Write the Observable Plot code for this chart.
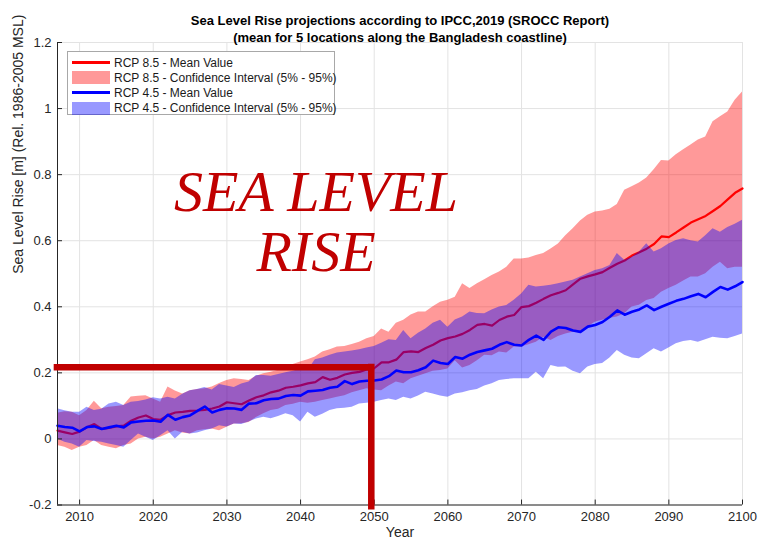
<!DOCTYPE html>
<html>
<head>
<meta charset="utf-8">
<script src="https://cdn.jsdelivr.net/npm/d3@7"></script>
<script src="https://cdn.jsdelivr.net/npm/@observablehq/plot@0.6"></script>
<style>
  html, body { margin: 0; padding: 0; background: #fff; }
  #wrap { position: relative; width: 758px; height: 546px; font-family: "Liberation Sans", Arial, sans-serif; }
  #legend { position: absolute; left: 67px; top: 51px; width: 268px; height: 64px; border: 1px solid #a8a8a8; background: #fff; box-sizing: border-box; }
  #legend .sw { position: absolute; left: 4px; width: 38px; }
  #legend .tx { position: absolute; left: 46px; font-size: 12px; color: #1a1a1a; line-height: 14px; white-space: nowrap; }
  .big { position: absolute; font-family: "Liberation Serif", "Times New Roman", serif; font-style: italic; color: #c00000; font-size: 58px; line-height: 58px; white-space: nowrap; text-align: center; width: 400px; left: 116px; }
</style>
</head>
<body>
<div id="wrap"></div>
<script>
// ---- data ----
const startYear = 2007;
const endYear = 2100;

const rcp85Mean = [
  0.025, 0.020, 0.015, 0.022, 0.035, 0.045, 0.030, 0.033, 0.038, 0.040,
  0.055, 0.065, 0.071, 0.060, 0.058, 0.072, 0.080, 0.082, 0.085, 0.086,
  0.088, 0.092, 0.098, 0.111, 0.108, 0.105, 0.116, 0.126, 0.132, 0.141,
  0.146, 0.155, 0.158, 0.162, 0.168, 0.172, 0.187, 0.179, 0.185, 0.195,
  0.200, 0.203, 0.210, 0.214, 0.232, 0.232, 0.240, 0.263, 0.265, 0.263,
  0.275, 0.285, 0.298, 0.305, 0.310, 0.318, 0.330, 0.345, 0.348, 0.343,
  0.360, 0.370, 0.375, 0.399, 0.402, 0.412, 0.424, 0.435, 0.442, 0.450,
  0.468, 0.485, 0.492, 0.498, 0.505, 0.518, 0.530, 0.540, 0.555, 0.565,
  0.576, 0.590, 0.613, 0.611, 0.625, 0.640, 0.655, 0.665, 0.675, 0.690,
  0.705, 0.725, 0.745, 0.758
];
const rcp85High = [
  0.078, 0.082, 0.081, 0.070, 0.086, 0.114, 0.091, 0.096, 0.098, 0.101,
  0.127, 0.129, 0.131, 0.121, 0.111, 0.157, 0.145, 0.136, 0.146, 0.150,
  0.152, 0.157, 0.168, 0.177, 0.182, 0.180, 0.177, 0.190, 0.197, 0.202,
  0.208, 0.217, 0.225, 0.233, 0.240, 0.248, 0.263, 0.270, 0.278, 0.280,
  0.286, 0.293, 0.303, 0.310, 0.333, 0.323, 0.350, 0.359, 0.375, 0.384,
  0.384, 0.400, 0.414, 0.420, 0.429, 0.470, 0.455, 0.470, 0.482, 0.495,
  0.505, 0.520, 0.545, 0.545, 0.548, 0.555, 0.561, 0.575, 0.590, 0.615,
  0.636, 0.660, 0.677, 0.687, 0.690, 0.695, 0.710, 0.753, 0.763, 0.775,
  0.790, 0.815, 0.843, 0.841, 0.860, 0.875, 0.890, 0.905, 0.914, 0.960,
  0.975, 0.990, 1.025, 1.050
];
const rcp85Low = [
  -0.020, -0.025, -0.035, -0.025, -0.020, -0.005, -0.020, -0.025, -0.030, -0.020,
  -0.015, 0.000, 0.005, 0.000, 0.005, 0.015, 0.025, 0.018, 0.015, 0.025,
  0.028, 0.030, 0.025, 0.035, 0.045, 0.046, 0.050, 0.065, 0.076, 0.086,
  0.090, 0.101, 0.105, 0.111, 0.108, 0.111, 0.116, 0.121, 0.126, 0.131,
  0.140, 0.146, 0.152, 0.148, 0.146, 0.160, 0.172, 0.167, 0.182, 0.190,
  0.197, 0.205, 0.207, 0.212, 0.237, 0.215, 0.222, 0.237, 0.253, 0.252,
  0.263, 0.260, 0.278, 0.278, 0.285, 0.293, 0.308, 0.298, 0.310, 0.318,
  0.323, 0.325, 0.339, 0.353, 0.359, 0.365, 0.369, 0.379, 0.399, 0.405,
  0.419, 0.425, 0.444, 0.455, 0.465, 0.478, 0.490, 0.490, 0.500, 0.520,
  0.535, 0.515, 0.520, 0.520
];
const rcp45Mean = [
  0.040, 0.036, 0.034, 0.023, 0.036, 0.038, 0.030, 0.035, 0.040, 0.035,
  0.050, 0.053, 0.055, 0.056, 0.052, 0.073, 0.058, 0.066, 0.071, 0.085,
  0.098, 0.080, 0.088, 0.093, 0.092, 0.088, 0.107, 0.108, 0.117, 0.121,
  0.122, 0.130, 0.133, 0.131, 0.144, 0.146, 0.148, 0.155, 0.158, 0.175,
  0.166, 0.174, 0.176, 0.177, 0.180, 0.190, 0.207, 0.202, 0.202, 0.208,
  0.217, 0.237, 0.230, 0.227, 0.248, 0.243, 0.255, 0.263, 0.268, 0.273,
  0.285, 0.293, 0.285, 0.283, 0.300, 0.313, 0.300, 0.325, 0.338, 0.336,
  0.328, 0.324, 0.340, 0.345, 0.354, 0.370, 0.389, 0.376, 0.385, 0.392,
  0.404, 0.390, 0.400, 0.409, 0.418, 0.424, 0.432, 0.439, 0.429, 0.445,
  0.460, 0.452, 0.462, 0.475
];
const rcp45High = [
  0.091, 0.085, 0.081, 0.081, 0.096, 0.086, 0.090, 0.106, 0.111, 0.101,
  0.111, 0.113, 0.118, 0.125, 0.121, 0.126, 0.121, 0.135, 0.146, 0.150,
  0.156, 0.148, 0.165, 0.160, 0.156, 0.166, 0.172, 0.192, 0.192, 0.190,
  0.195, 0.200, 0.205, 0.212, 0.207, 0.240, 0.245, 0.253, 0.260, 0.263,
  0.266, 0.270, 0.275, 0.280, 0.290, 0.300, 0.298, 0.328, 0.303, 0.320,
  0.333, 0.350, 0.359, 0.338, 0.360, 0.369, 0.384, 0.380, 0.379, 0.390,
  0.399, 0.404, 0.420, 0.439, 0.465, 0.460, 0.462, 0.465, 0.470, 0.475,
  0.480, 0.490, 0.500, 0.510, 0.515, 0.525, 0.561, 0.541, 0.550, 0.566,
  0.591, 0.566, 0.576, 0.590, 0.601, 0.606, 0.600, 0.596, 0.615, 0.636,
  0.626, 0.640, 0.650, 0.662
];
const rcp45Low = [
  0.000, -0.010, -0.015, -0.025, -0.005, -0.008, -0.010, -0.015, -0.020, -0.025,
  -0.005, 0.015, 0.005, -0.005, 0.010, 0.025, 0.000, 0.020, 0.015, 0.018,
  0.025, 0.030, 0.040, 0.036, 0.045, 0.044, 0.051, 0.060, 0.066, 0.061,
  0.068, 0.076, 0.070, 0.051, 0.081, 0.066, 0.075, 0.086, 0.091, 0.093,
  0.096, 0.106, 0.108, 0.111, 0.116, 0.121, 0.116, 0.126, 0.121, 0.130,
  0.141, 0.136, 0.130, 0.126, 0.136, 0.140, 0.146, 0.150, 0.160, 0.167,
  0.177, 0.180, 0.182, 0.182, 0.182, 0.202, 0.182, 0.222, 0.217, 0.218,
  0.205, 0.197, 0.218, 0.225, 0.228, 0.245, 0.268, 0.253, 0.245, 0.243,
  0.258, 0.273, 0.263, 0.275, 0.288, 0.295, 0.298, 0.293, 0.300, 0.308,
  0.305, 0.303, 0.310, 0.318
];

const xTicks = [2010, 2020, 2030, 2040, 2050, 2060, 2070, 2080, 2090, 2100];
const yTicks = [-0.2, 0, 0.2, 0.4, 0.6, 0.8, 1, 1.2];
const yTickLabels = ["-0.2", "0", "0.2", "0.4", "0.6", "0.8", "1", "1.2"];

// highlight annotation (2050, ~0.22 m)
const markYear = [2049.6];
const markLevel = [0.217];
const markFromYear = 2006.55;
const markToYear = 2050.05;
const markTopLevel = 0.226;
const markBottomLevel = -0.215;

const titleLines = [
  "Sea Level Rise projections according to IPCC,2019 (SROCC Report)",
  "(mean for 5 locations along the Bangladesh coastline)"
];
const yLabel = "Sea Level Rise [m] (Rel. 1986-2005 MSL)";
const xLabel = "Year";
const legendItems = [
  {label: "RCP 8.5 - Mean Value", kind: "line", color: "#ff0000"},
  {label: "RCP 8.5 - Confidence Interval (5% - 95%)", kind: "patch", color: "rgba(255,0,0,0.4)"},
  {label: "RCP 4.5 - Mean Value", kind: "line", color: "#0000ff"},
  {label: "RCP 4.5 - Confidence Interval (5% - 95%)", kind: "patch", color: "rgba(0,0,255,0.4)"}
];
const overlayWords = ["SEA LEVEL", "RISE"];

// ---- table ----
const years = d3.range(startYear, endYear + 1);
const data = years.map((year, i) => ({
  year,
  r85: rcp85Mean[i], r85lo: rcp85Low[i], r85hi: rcp85High[i],
  r45: rcp45Mean[i], r45lo: rcp45Low[i], r45hi: rcp45High[i]
}));

const axisColor = "#262626";
const gridColor = "#e3e3e3";

const chart = Plot.plot({
  width: 758,
  height: 546,
  marginLeft: 57,
  marginRight: 16,
  marginTop: 42,
  marginBottom: 41.5,
  style: {fontFamily: "'Liberation Sans', Arial, sans-serif", background: "#fff", overflow: "visible"},
  x: {domain: [startYear, endYear], axis: null},
  y: {domain: [-0.2, 1.2], axis: null},
  marks: [
    Plot.gridX(xTicks, {stroke: gridColor, strokeOpacity: 1, strokeWidth: 1}),
    Plot.gridY(yTicks, {stroke: gridColor, strokeOpacity: 1, strokeWidth: 1}),
    Plot.areaY(data, {x: "year", y1: "r85lo", y2: "r85hi", fill: "#ff0000", fillOpacity: 0.4}),
    Plot.lineY(data, {x: "year", y: "r85", stroke: "#ff0000", strokeWidth: 2.2}),
    Plot.areaY(data, {x: "year", y1: "r45lo", y2: "r45hi", fill: "#0000ff", fillOpacity: 0.4}),
    Plot.lineY(data, {x: "year", y: "r45", stroke: "#0000ff", strokeWidth: 2.6}),
    // axis lines
    Plot.ruleX([startYear], {stroke: axisColor, strokeWidth: 1}),
    Plot.ruleY([-0.2], {stroke: axisColor, strokeWidth: 1}),
    // inward ticks
    Plot.ruleX(xTicks, {y1: -0.2, y2: -0.185, stroke: axisColor, strokeWidth: 1}),
    Plot.ruleY(yTicks, {x1: startYear, x2: startYear + 0.68, stroke: axisColor, strokeWidth: 1}),
    // tick labels
    Plot.text(xTicks, {x: d => d, frameAnchor: "bottom", dy: 16, text: d => String(d), fontSize: 13, fill: axisColor, textAnchor: "middle"}),
    Plot.text(yTicks, {y: d => d, frameAnchor: "left", dx: -6, text: (d, i) => yTickLabels[i], fontSize: 13, fill: axisColor, textAnchor: "end"}),
    // highlight annotation
    Plot.ruleY(markLevel, {x1: markFromYear, x2: markToYear, stroke: "#c00000", strokeWidth: 6.5}),
    Plot.ruleX(markYear, {y1: markTopLevel, y2: markBottomLevel, stroke: "#c00000", strokeWidth: 6.5}),
    // titles and labels
    Plot.text([titleLines[0]], {frameAnchor: "top", dy: -27, fontSize: 13, fontWeight: "bold", fill: "#000"}),
    Plot.text([titleLines[1]], {frameAnchor: "top", dy: -10, fontSize: 13, fontWeight: "bold", fill: "#000"}),
    Plot.text([yLabel], {frameAnchor: "left", dx: -39, rotate: -90, fontSize: 14, fill: axisColor}),
    Plot.text([xLabel], {frameAnchor: "bottom", dy: 32, fontSize: 14, fill: axisColor})
  ]
});

const wrap = document.getElementById("wrap");
wrap.appendChild(chart);

// legend
const legend = document.createElement("div");
legend.id = "legend";
const rowCenters = [10.5, 25.5, 40.5, 56];
legendItems.forEach((item, i) => {
  const sw = document.createElement("div");
  sw.className = "sw";
  if (item.kind === "line") {
    sw.style.top = (rowCenters[i] - 1.25) + "px";
    sw.style.height = "2.5px";
  } else {
    sw.style.top = (rowCenters[i] - 6.5) + "px";
    sw.style.height = "13px";
  }
  sw.style.background = item.color;
  legend.appendChild(sw);
  const tx = document.createElement("div");
  tx.className = "tx";
  tx.style.top = (rowCenters[i] - 7) + "px";
  tx.textContent = item.label;
  legend.appendChild(tx);
});
wrap.appendChild(legend);

// overlay words
overlayWords.forEach((w, i) => {
  const d = document.createElement("div");
  d.className = "big";
  d.style.top = (163 + i * 60) + "px";
  d.textContent = w;
  wrap.appendChild(d);
});
</script>
</body>
</html>
